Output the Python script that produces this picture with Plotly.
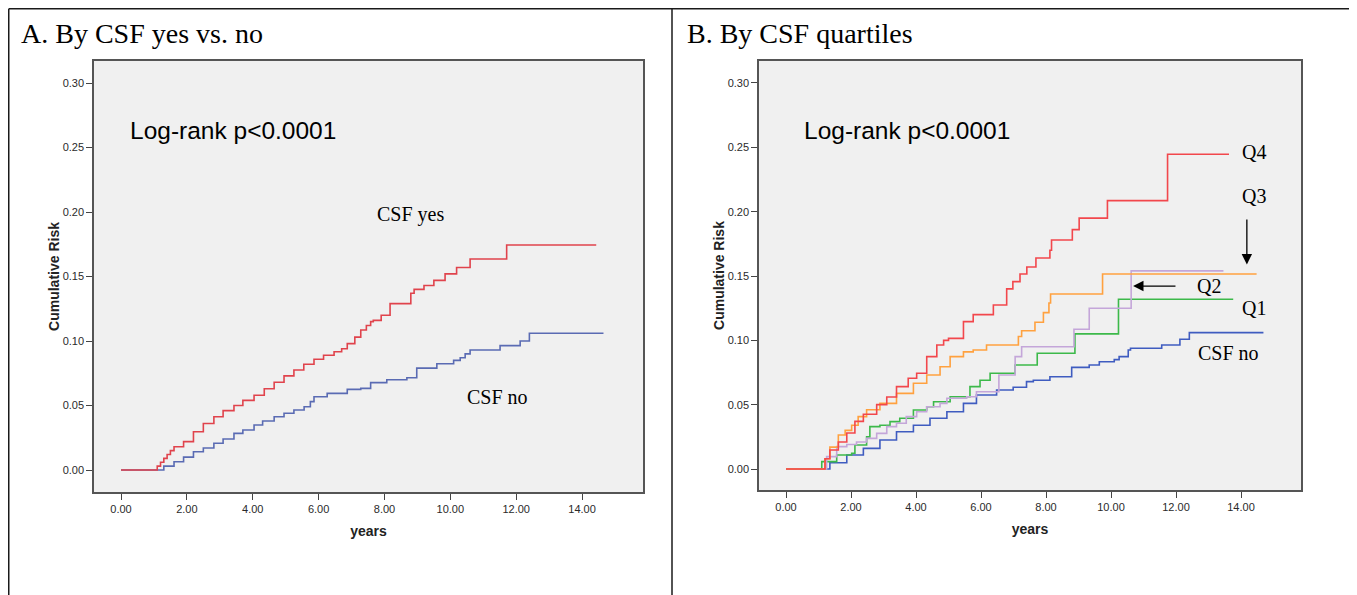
import plotly.graph_objects as go

# ---------------- data ----------------
years_ticks = [0, 2, 4, 6, 8, 10, 12, 14]
years_labels = ["0.00", "2.00", "4.00", "6.00", "8.00", "10.00", "12.00", "14.00"]
risk_ticks = [0.0, 0.05, 0.10, 0.15, 0.20, 0.25, 0.30]
risk_labels = ["0.00", "0.05", "0.10", "0.15", "0.20", "0.25", "0.30"]

# Panel A: CSF yes
a_yes_t = [0, 1.0, 1.1, 1.2, 1.3, 1.4, 1.5, 1.61, 1.9, 2.2, 2.5, 2.82, 3.1, 3.43, 3.7, 4.04,
           4.35, 4.65, 4.95, 5.25, 5.55, 5.86, 6.15, 6.47, 6.7, 6.87, 7.1, 7.28, 7.45, 7.58,
           7.66, 7.9, 8.17, 8.8, 8.9, 9.2, 9.5, 9.84, 10.19, 10.6, 11.71, 14.43]
a_yes_v = [0, 0, 0.003, 0.006, 0.009, 0.012, 0.015, 0.018, 0.022, 0.0297, 0.036, 0.0413,
           0.046, 0.050, 0.054, 0.058, 0.063, 0.068, 0.073, 0.0775, 0.082, 0.0858, 0.089,
           0.0917, 0.094, 0.098, 0.103, 0.1085, 0.112, 0.115, 0.116, 0.120, 0.129, 0.137,
           0.140, 0.143, 0.147, 0.152, 0.157, 0.1636, 0.1744, 0.1744]

# Panel A: CSF no
a_no_t = [0, 1.0, 1.3, 1.61, 1.9, 2.2, 2.5, 2.82, 3.1, 3.43, 3.7, 4.04, 4.3, 4.65, 4.95,
          5.25, 5.56, 5.75, 5.86, 6.26, 6.87, 7.28, 7.58, 8.07, 8.68, 8.98, 9.59, 10.1,
          10.3, 10.45, 10.6, 11.51, 12.12, 12.4, 14.65]
a_no_v = [0, 0, 0.003, 0.0064, 0.010, 0.0142, 0.017, 0.0207, 0.024, 0.0284, 0.031, 0.0349,
          0.038, 0.0413, 0.044, 0.0465, 0.049, 0.053, 0.0568, 0.0594, 0.0625, 0.0633,
          0.0677, 0.070, 0.0715, 0.079, 0.0824, 0.085, 0.087, 0.090, 0.093, 0.0964, 0.100,
          0.106, 0.106]

# Panel B: Q4
q4_t = [0, 1.03, 1.2, 1.35, 1.61, 1.87, 2.12, 2.38, 2.79, 3.1, 3.4, 3.76, 4.02, 4.33,
        4.64, 4.85, 5.0, 5.46, 5.76, 6.38, 6.79, 6.98, 7.2, 7.41, 7.69, 8.12, 8.17, 8.81,
        9.02, 9.89, 11.74, 13.63]
q4_v = [0, 0, 0.008, 0.0148, 0.021, 0.028, 0.037, 0.0425, 0.050, 0.056, 0.064, 0.0705,
        0.0744, 0.0873, 0.0964, 0.100, 0.1015, 0.1145, 0.120, 0.1275, 0.140, 0.1456,
        0.1515, 0.157, 0.164, 0.170, 0.178, 0.186, 0.195, 0.2086, 0.2446, 0.2446]

# Panel B: Q3
q3_t = [0, 1.03, 1.2, 1.35, 1.61, 1.82, 2.02, 2.22, 2.48, 2.89, 3.4, 3.92, 4.33, 4.74,
        5.05, 5.46, 5.76, 6.17, 7.15, 7.25, 7.66, 7.92, 8.09, 8.14, 9.74, 14.48]
q3_v = [0, 0, 0.008, 0.017, 0.0264, 0.030, 0.034, 0.0407, 0.046, 0.051, 0.0588, 0.0666,
        0.073, 0.0795, 0.0873, 0.091, 0.0925, 0.0964, 0.103, 0.1075, 0.114, 0.1215,
        0.129, 0.136, 0.1515, 0.1515]

# Panel B: Q2
q2_t = [0, 1.03, 1.25, 1.56, 1.87, 2.17, 2.48, 2.79, 3.1, 3.4, 3.7, 4.02, 4.33, 4.74,
        4.95, 5.56, 5.86, 6.55, 7.05, 7.25, 8.86, 9.33, 10.62, 13.46]
q2_v = [0, 0, 0.0096, 0.0174, 0.019, 0.021, 0.0238, 0.0277, 0.0329, 0.0355, 0.0407,
        0.0445, 0.0484, 0.051, 0.055, 0.0562, 0.060, 0.073, 0.0873, 0.095, 0.1086,
        0.1249, 0.154, 0.154]

# Panel B: Q1
q1_t = [0, 1.03, 1.1, 1.56, 2.02, 2.12, 2.48, 2.58, 2.89, 3.2, 3.5, 3.92, 4.33, 4.54,
        5.05, 5.66, 5.97, 6.28, 7.05, 7.73, 8.89, 10.23, 13.76]
q1_v = [0, 0, 0.0057, 0.0109, 0.0122, 0.0187, 0.025, 0.0329, 0.034, 0.0368, 0.0394,
        0.0459, 0.0484, 0.0523, 0.0562, 0.064, 0.069, 0.0744, 0.0808, 0.090, 0.105,
        0.1319, 0.1319]

# Panel B: CSF no
b_no_t = [0, 1.03, 1.35, 1.87, 2.38, 2.89, 3.4, 3.92, 4.43, 4.95, 5.46, 5.86, 6.48,
          6.99, 7.4, 7.61, 8.12, 8.79, 9.33, 9.64, 10.1, 10.25, 10.53, 10.6, 11.56,
          12.12, 12.41, 14.69]
b_no_v = [0, 0, 0.0049, 0.0109, 0.016, 0.0225, 0.029, 0.034, 0.0394, 0.0445, 0.051,
          0.0575, 0.0614, 0.0635, 0.0679, 0.069, 0.0717, 0.079, 0.0808, 0.0834, 0.085,
          0.0873, 0.0925, 0.0938, 0.0964, 0.1008, 0.106, 0.106]

# ---------------- figure ----------------
OFF = 8                     # default page margin around the plot div
W, H = 1357 - OFF, 595 - OFF
SERIF = "Liberation Serif"
SANS = "Liberation Sans"

def px(x):   # page x -> paper fraction
    return (x - OFF) / W

def py(y):   # page y -> paper fraction
    return 1 - (y - OFF) / H

fig = go.Figure()

def add_curve(t, v, color, xa, ya, name):
    fig.add_trace(go.Scatter(x=t, y=v, mode="lines", line=dict(color=color, width=1.6, shape="hv"),
                             xaxis=xa, yaxis=ya, name=name, showlegend=False, hoverinfo="skip"))

add_curve(a_no_t, a_no_v, "#5a6bb3", "x", "y", "CSF no")
add_curve(a_yes_t, a_yes_v, "#e0434c", "x", "y", "CSF yes")

add_curve(b_no_t, b_no_v, "#3f5cc0", "x2", "y2", "CSF no")
add_curve(q1_t, q1_v, "#3cb94a", "x2", "y2", "Q1")
add_curve(q2_t, q2_v, "#c4a6d9", "x2", "y2", "Q2")
add_curve(q3_t, q3_v, "#ffa13f", "x2", "y2", "Q3")
add_curve(q4_t, q4_v, "#f2474c", "x2", "y2", "Q4")

axis_common = dict(
    showline=True, linecolor="#555555", linewidth=1.5, mirror=True,
    showgrid=False, zeroline=False, ticks="outside", ticklen=6, tickwidth=1,
    tickcolor="#444444", tickfont=dict(family=SANS, size=11, color="#2a2a2a"),
)
title_font = dict(family=SANS, size=14, color="#222")

fig.update_layout(
    width=W, height=H,
    margin=dict(l=0, r=0, t=0, b=0),
    paper_bgcolor="white",
    plot_bgcolor="#f0f0f0",
    xaxis=dict(domain=[px(94), px(643)], range=[-0.82, 15.85], tickvals=years_ticks,
               ticktext=years_labels, anchor="y",
               title=dict(text="<b>years</b>", font=title_font, standoff=12), **axis_common),
    yaxis=dict(domain=[py(492), py(61)], range=[-0.01705, 0.31705], tickvals=risk_ticks,
               ticktext=risk_labels, anchor="x",
               title=dict(text="<b>Cumulative Risk</b>", font=title_font, standoff=0), **axis_common),
    xaxis2=dict(domain=[px(759), px(1301)], range=[-0.831, 15.846], tickvals=years_ticks,
                ticktext=years_labels, anchor="y2",
                title=dict(text="<b>years</b>", font=title_font, standoff=12), **axis_common),
    yaxis2=dict(domain=[py(490), py(61)], range=[-0.01632, 0.31709], tickvals=risk_ticks,
                ticktext=risk_labels, anchor="x2",
                title=dict(text="<b>Cumulative Risk</b>", font=title_font, standoff=0), **axis_common),
)

# panel frames
frame = dict(type="line", xref="paper", yref="paper", line=dict(color="#1a1a1a", width=1.5))
top = 1 - 0.75 / H
fig.add_shape(x0=0.75 / W, x1=px(1350), y0=top, y1=top, **frame)
fig.add_shape(x0=0.75 / W, x1=0.75 / W, y0=0, y1=top, **frame)
fig.add_shape(x0=px(672), x1=px(672), y0=0, y1=top, **frame)
fig.add_shape(x0=px(1350), x1=px(1350), y0=0, y1=top, **frame)

ann = []
# panel titles
ann.append(dict(text="A. By CSF yes vs. no", xref="paper", yref="paper", x=px(19), y=py(33),
                xanchor="left", yanchor="middle", showarrow=False,
                font=dict(family=SERIF, size=28, color="black")))
ann.append(dict(text="B. By CSF quartiles", xref="paper", yref="paper", x=px(685), y=py(33),
                xanchor="left", yanchor="middle", showarrow=False,
                font=dict(family=SERIF, size=28, color="black")))
# log-rank
ann.append(dict(text="Log-rank p<0.0001", xref="x", yref="y", x=3.4, y=0.2628, showarrow=False,
                font=dict(family=SANS, size=24.5, color="black")))
ann.append(dict(text="Log-rank p<0.0001", xref="x2", yref="y2", x=3.72, y=0.2627, showarrow=False,
                font=dict(family=SANS, size=24.5, color="black")))
# panel A labels
lab_font = dict(family=SERIF, size=20, color="black")
ann.append(dict(text="CSF yes", xref="x", yref="y", x=8.78, y=0.1977, showarrow=False, font=lab_font))
ann.append(dict(text="CSF no", xref="x", yref="y", x=11.42, y=0.0566, showarrow=False, font=lab_font))
# panel B labels
ann.append(dict(text="Q4", xref="x2", yref="y2", x=14.4, y=0.2464, showarrow=False, font=lab_font))
ann.append(dict(text="Q3", xref="x2", yref="y2", x=14.4, y=0.2122, showarrow=False, font=lab_font))
ann.append(dict(text="Q2", xref="x2", yref="y2", x=13.02, y=0.1422, showarrow=False, font=lab_font))
ann.append(dict(text="Q1", xref="x2", yref="y2", x=14.4, y=0.1251, showarrow=False, font=lab_font))
ann.append(dict(text="CSF no", xref="x2", yref="y2", x=13.6, y=0.0902, showarrow=False, font=lab_font))
# arrows
ann.append(dict(text="", xref="x2", yref="y2", axref="x2", ayref="y2", x=14.18, y=0.159,
                ax=14.18, ay=0.195, showarrow=True, arrowhead=2, arrowsize=1.6, arrowwidth=1.3,
                arrowcolor="black"))
ann.append(dict(text="", xref="x2", yref="y2", axref="x2", ayref="y2", x=10.68, y=0.1422,
                ax=12.03, ay=0.1422, showarrow=True, arrowhead=2, arrowsize=1.6, arrowwidth=1.3,
                arrowcolor="black"))
fig.update_layout(annotations=ann)

fig.write_html("out.html")
